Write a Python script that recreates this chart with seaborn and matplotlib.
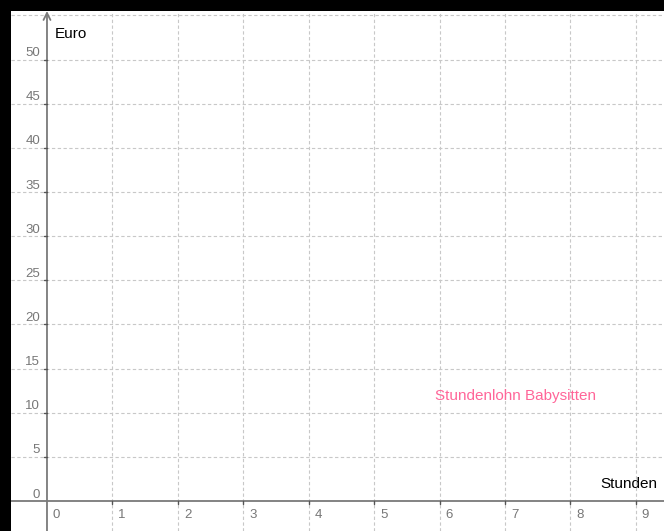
import matplotlib
matplotlib.use("Agg")
import matplotlib.pyplot as plt
import seaborn as sns
import pandas as pd

# data
x_ticks = [0, 1, 2, 3, 4, 5, 6, 7, 8, 9]
y_ticks = [0, 5, 10, 15, 20, 25, 30, 35, 40, 45, 50]
x_label = "Stunden"
y_label = "Euro"
series_name = "Stundenlohn Babysitten"
series_x = []
series_y = []

sns.set_style("white")
plt.rcParams['font.family'] = ['Liberation Sans', 'DejaVu Sans']

fig = plt.figure(figsize=(6.64, 5.31), dpi=100, facecolor="black")
ax = fig.add_axes([11/664, 0, 653/664, 520/531])
ax.set_facecolor("white")

df = pd.DataFrame({"Stunden": series_x, "Euro": series_y})
sns.lineplot(data=df, x="Stunden", y="Euro", ax=ax, color="#ff6699")

xmin, xmax = -0.55, 9.43
ymin, ymax = -3.4, 55.5
ax.set_xlim(xmin, xmax)
ax.set_ylim(ymin, ymax)
for s in ax.spines.values():
    s.set_visible(False)
ax.set_xticks([]); ax.set_yticks([])
ax.set_xlabel(""); ax.set_ylabel("")

grid_kw = dict(color="#c8c8c8", lw=0.8, ls=(0, (3, 2.2)), zorder=1)
for xv in x_ticks[1:]:
    ax.axvline(xv, **grid_kw)
for yv in y_ticks[1:] + [55]:
    ax.axhline(yv, **grid_kw)

axis_col = "#7a7a7a"
ax.axhline(0, color=axis_col, lw=1.3, zorder=3)
ax.annotate("", xy=(0, ymax), xytext=(0, ymin),
            arrowprops=dict(arrowstyle="->,head_length=0.5,head_width=0.25",
                            color=axis_col, lw=1.3, shrinkA=0, shrinkB=0), zorder=3)

tick_col = "#555555"
lab_col = "#777777"
px_x = 1 / 65.4
px_y = 1 / 8.83
for xv in x_ticks:
    if xv != 0:
        ax.plot([xv, xv], [0, -3 * px_y], color=tick_col, lw=1, zorder=4, clip_on=False)
    ax.text(xv + 6 * px_x, -17.5 * px_y, str(xv), ha="left", va="baseline",
            fontsize=9.5, color=lab_col)
for yv in y_ticks:
    if yv != 0:
        ax.plot([0, -3 * px_x], [yv, yv], color=tick_col, lw=1, zorder=4)
    ax.text(-7 * px_x, yv + 3.4 * px_y, str(yv), ha="right", va="baseline",
            fontsize=9.5, color=lab_col)

ax.text(8 * px_x, (501 - 38) * px_y, y_label, ha="left", va="baseline",
        fontsize=11, color="black")
ax.text((600 - 47) * px_x, (501 - 488) * px_y, x_label, ha="left", va="baseline",
        fontsize=11, color="black")
ax.text((435 - 47) * px_x, (501 - 400.5) * px_y, series_name, ha="left", va="baseline",
        fontsize=11, color="#ff6699")

fig.savefig("out.png", dpi=100, facecolor="black")
